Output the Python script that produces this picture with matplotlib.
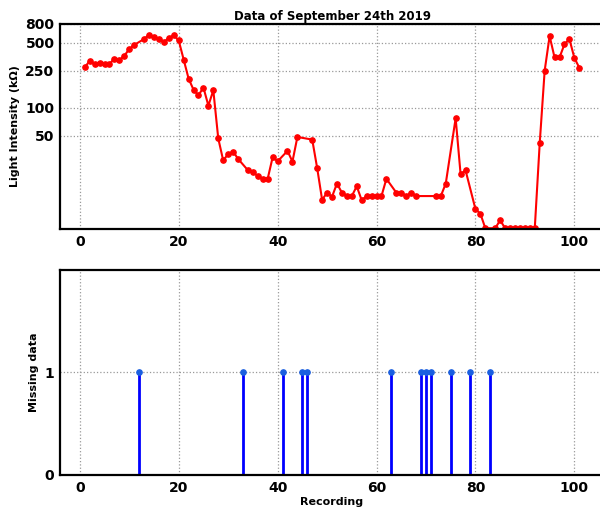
"""Light intensity recordings and missing-data flags, 24 Sept 2019."""

import numpy as np
import matplotlib.pyplot as plt

# recordings with a valid reading and their values (kOhm)
rec_ok = [1, 2, 3, 4, 5, 6, 7, 8, 9, 10, 11, 13, 14, 15, 16, 17, 18, 19, 20,
          21, 22, 23, 24, 25, 26, 27, 28, 29, 30, 31, 32, 34, 35, 36, 37, 38,
          39, 40, 42, 43, 44, 47, 48, 49, 50, 51, 52, 53, 54, 55, 56, 57, 58,
          59, 60, 61, 62, 64, 65, 66, 67, 68, 72, 73, 74, 76, 77, 78, 80, 81,
          82, 84, 85, 86, 87, 88, 89, 90, 91, 92, 93, 94, 95, 96, 97, 98, 99,
          100, 101]
intensity = [273, 321, 296, 308, 297, 297, 340, 327, 363, 431, 476, 551, 613,
             578, 555, 508, 569, 603, 533, 332, 207, 157, 137, 166, 106, 155,
             47, 27.3, 32, 34, 28.4, 21.4, 20.5, 18.5, 17.4, 17.4, 29.6, 26.7,
             34.6, 26.5, 48.8, 45.7, 22.6, 10.3, 12.3, 11.1, 15.4, 12.3, 11.3,
             11.3, 14.4, 10.2, 11.3, 11.3, 11.3, 11.3, 17.3, 12.3, 12.3, 11.3,
             12.3, 11.3, 11.3, 11.3, 15.4, 77.6, 19.4, 21.4, 8.2, 7.3, 5.1,
             5.1, 6.2, 5.1, 5.1, 5.1, 5.1, 5.1, 5.1, 5.1, 42, 252, 593, 349,
             349, 484, 551, 346, 271]

# recordings flagged as missing
rec_missing = [12, 33, 41, 45, 46, 63, 69, 70, 71, 75, 79, 83]
missing_flag = [1] * len(rec_missing)

xticks = [0, 20, 40, 60, 80, 100]
yticks_top = [50, 100, 250, 500, 800]

fig = plt.figure(figsize=(6, 5.09), dpi=100)
ax1 = fig.add_axes([0.1, 0.5501, 0.9067, 0.4028])
ax2 = fig.add_axes([0.1, 0.0668, 0.9067, 0.4028])

ax1.plot(rec_ok, intensity, "r-", marker="o", markersize=3.8, linewidth=1.5)
ax1.set_yscale("log")
ax1.set_ylim(5, 800)
ax1.set_yticks(yticks_top)
ax1.set_yticklabels([str(v) for v in yticks_top])
ax1.minorticks_off()
ax1.set_ylabel("Light Intensity (kΩ)", fontsize=8, fontweight="bold")
ax1.set_title("Data of September 24th 2019", fontsize=8.5, fontweight="bold",
              pad=3)

markerline, stemlines, baseline = ax2.stem(rec_missing, missing_flag,
                                           basefmt=" ")
plt.setp(stemlines, color="b", linewidth=2)
plt.setp(markerline, color="#1a5fe0", markersize=3.8)
ax2.set_ylim(0, 2)
ax2.set_yticks([0, 1])
ax2.set_ylabel("Missing data", fontsize=8, fontweight="bold")
ax2.set_xlabel("Recording", fontsize=8, fontweight="bold", labelpad=2)

for ax in (ax1, ax2):
    ax.set_xlim(-4, 106)
    ax.set_xticks(xticks)
    ax.grid(True, linestyle=":", color="#999999", linewidth=0.9)
    ax.tick_params(length=0, labelsize=10, pad=4)
    for lab in ax.get_xticklabels() + ax.get_yticklabels():
        lab.set_fontweight("bold")
    for sp in ax.spines.values():
        sp.set_linewidth(1.6)

fig.savefig("out.png", dpi=100)
